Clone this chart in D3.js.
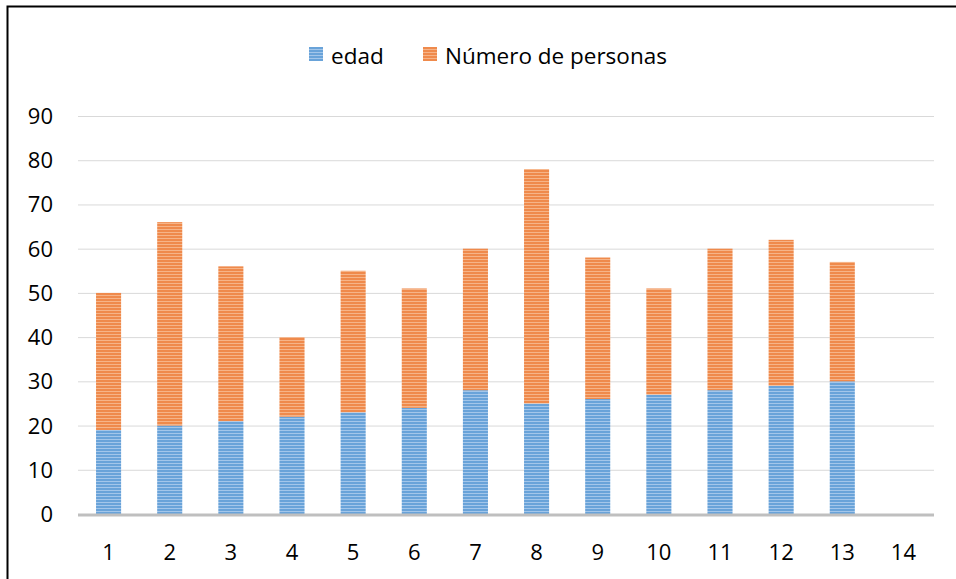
<!DOCTYPE html>
<html>
<head>
<meta charset="utf-8">
<script src="https://cdnjs.cloudflare.com/ajax/libs/d3/7.8.5/d3.min.js"></script>
<style>
  body { margin: 0; background: #fff; }
  svg { display: block; font-family: "Open Sans", "Noto Sans", sans-serif; }
</style>
</head>
<body>
<svg id="svg1" width="956" height="579"></svg>
<script>
var categories = ['1','2','3','4','5','6','7','8','9','10','11','12','13','14'];
var edad = [19, 20, 21, 22, 23, 24, 28, 25, 26, 27, 28, 29, 30, null];
var personas = [31, 46, 35, 18, 32, 27, 32, 53, 32, 24, 32, 33, 27, null];
var yTicks = [0, 10, 20, 30, 40, 50, 60, 70, 80, 90];
var seriesNames = ['edad', 'Número de personas'];

var svg = d3.select('#svg1');

// outer frame (only top and left visible in the picture)
svg.append('rect')
    .attr('x', 7.5).attr('y', 6.5)
    .attr('width', 960).attr('height', 600)
    .attr('fill', 'none')
    .attr('stroke', '#000')
    .attr('stroke-width', 2);

// striped fills
var defs = svg.append('defs');
function stripes(id, base, light) {
    var p = defs.append('pattern')
        .attr('id', id)
        .attr('patternUnits', 'userSpaceOnUse')
        .attr('width', 8).attr('height', 3);
    p.append('rect').attr('width', 8).attr('height', 3).attr('fill', base);
    p.append('rect').attr('y', 1).attr('width', 8).attr('height', 1).attr('fill', light);
}
stripes('blueStripe', '#69a3d9', '#a3c6ea');
stripes('orangeStripe', '#ef8a4c', '#f6b488');

var x0 = 78, x1 = 934;
var scaleX = d3.scaleBand().domain(categories).range([x0, x1]).paddingInner(0.59).paddingOuter(0.295);
var scaleY = d3.scaleLinear().domain([0, 90]).range([514, 116]);

// gridlines
svg.append('g').selectAll('line')
    .data(yTicks.slice(1))
    .enter().append('line')
    .attr('x1', x0).attr('x2', x1)
    .attr('y1', function(d){ return scaleY(d) + 0.5; })
    .attr('y2', function(d){ return scaleY(d) + 0.5; })
    .attr('stroke', '#d9d9d9')
    .attr('stroke-width', 1);

// y labels
svg.append('g').selectAll('text')
    .data(yTicks)
    .enter().append('text')
    .attr('x', 53)
    .attr('y', function(d){ return scaleY(d) + 8; })
    .attr('text-anchor', 'end')
    .attr('font-size', 22)
    .attr('fill', '#000')
    .text(function(d){ return d; });

var data = categories.map(function(c, i){ return {cat: c, a: edad[i], b: personas[i]}; });

// edad bars
svg.append('g').selectAll('rect')
    .data(data.filter(function(d){ return d.a != null; }))
    .enter().append('rect')
    .attr('x', function(d){ return scaleX(d.cat); })
    .attr('width', scaleX.bandwidth())
    .attr('y', function(d){ return scaleY(d.a); })
    .attr('height', function(d){ return scaleY(0) - scaleY(d.a); })
    .attr('fill', 'url(#blueStripe)');

// personas bars stacked on top
svg.append('g').selectAll('rect')
    .data(data.filter(function(d){ return d.b != null; }))
    .enter().append('rect')
    .attr('x', function(d){ return scaleX(d.cat); })
    .attr('width', scaleX.bandwidth())
    .attr('y', function(d){ return scaleY(d.a + d.b); })
    .attr('height', function(d){ return scaleY(d.a) - scaleY(d.a + d.b); })
    .attr('fill', 'url(#orangeStripe)');

// x axis line
svg.append('line')
    .attr('x1', x0).attr('x2', x1)
    .attr('y1', scaleY(0) + 1).attr('y2', scaleY(0) + 1)
    .attr('stroke', '#bfbfbf')
    .attr('stroke-width', 3);

// category labels
svg.append('g').selectAll('text')
    .data(categories)
    .enter().append('text')
    .attr('x', function(d){ return scaleX(d) + scaleX.bandwidth() / 2; })
    .attr('y', 560)
    .attr('text-anchor', 'middle')
    .attr('font-size', 22)
    .attr('fill', '#000')
    .text(function(d){ return d; });

// legend
var legend = svg.append('g');
var legendX = [309, 423];
var legendFill = ['url(#blueStripe)', 'url(#orangeStripe)'];
seriesNames.forEach(function(name, i){
    legend.append('rect')
        .attr('x', legendX[i]).attr('y', 47)
        .attr('width', 14).attr('height', 14)
        .attr('fill', legendFill[i]);
    legend.append('text')
        .attr('x', legendX[i] + 22)
        .attr('y', 64)
        .attr('font-size', 22.5)
        .attr('fill', '#000')
        .text(name);
});
</script>
</body>
</html>
